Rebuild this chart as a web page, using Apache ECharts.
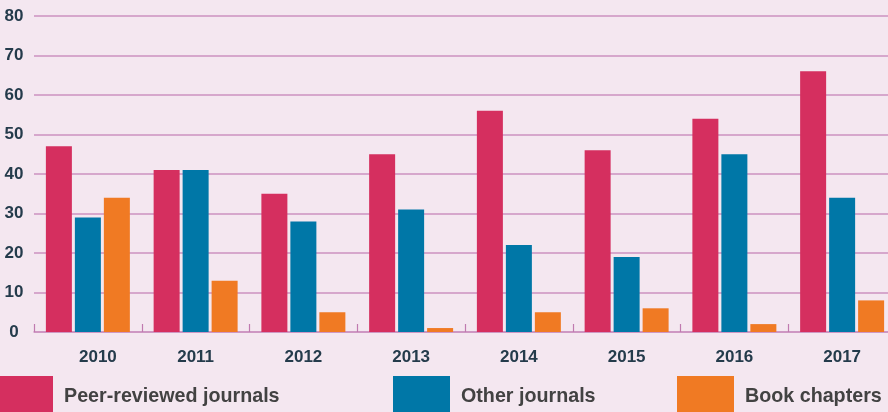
<!DOCTYPE html>
<html><head><meta charset="utf-8">
<script src="https://cdn.jsdelivr.net/npm/echarts@6/dist/echarts.min.js"></script>
<style>html,body{margin:0;padding:0;background:#f4e7f0;}#c{width:888px;height:412px;}</style>
</head><body><div id="c"></div>
<script>
var categories = ['2010','2011','2012','2013','2014','2015','2016','2017'];
var peerReviewed = [47, 41, 35, 45, 56, 46, 54, 66];
var otherJournals = [29, 41, 28, 31, 22, 19, 45, 34];
var bookChapters = [34, 13, 5, 1, 5, 6, 2, 8];
var yTicks = [0, 10, 20, 30, 40, 50, 60, 70, 80];
var seriesNames = ['Peer-reviewed journals', 'Other journals', 'Book chapters'];
var colors = ['#d52f5f', '#0077a7', '#f07a23'];

var chart = echarts.init(document.getElementById('c'));
var font = 'Liberation Sans, Arial, sans-serif';
function legendAt(i, left) {
  return {
    data: [seriesNames[i]], left: left, top: 376, orient: 'horizontal',
    itemWidth: 57, itemHeight: 42, itemGap: 0, padding: 0,
    icon: 'rect', selectedMode: false,
    textStyle: { color: '#424242', fontSize: 19.7, fontWeight: 'bold', fontFamily: font, padding: [0, 0, 0, 6] }
  };
}
var vals = [peerReviewed, otherJournals, bookChapters];
var lblStyle = { color: '#243b4b', fontSize: 17, fontWeight: 'bold', fontFamily: font };
chart.setOption({
  backgroundColor: '#f4e7f0',
  animation: false,
  grid: { left: 34, right: -8, top: 16, bottom: 80, containLabel: false, outerBoundsMode: 'none' },
  legend: [legendAt(0, -4), legendAt(1, 393), legendAt(2, 677)],
  xAxis: {
    type: 'category', data: categories,
    axisLine: { show: true, lineStyle: { color: '#cc92c0', width: 1.5 } },
    axisTick: { show: true, inside: true, length: 8, lineStyle: { color: '#c07ab0', width: 1.2 } },
    axisLabel: {
      color: lblStyle.color, fontSize: 17, fontWeight: 'bold', fontFamily: font, margin: 17,
      formatter: function (v, i) { return i === 0 ? '{f|' + v + '}' : '{n|' + v + '}'; },
      rich: {
        f: Object.assign({ padding: [0, 0, 0, 20] }, lblStyle),
        n: Object.assign({}, lblStyle)
      }
    }
  },
  yAxis: {
    type: 'value', min: yTicks[0], max: yTicks[yTicks.length - 1], interval: 10,
    axisLine: { show: false }, axisTick: { show: false },
    splitLine: { show: true, lineStyle: { color: '#cc92c0', width: 1.5 } },
    axisLabel: { color: '#243b4b', fontSize: 17, fontWeight: 'bold', fontFamily: font, align: 'center', margin: 20 }
  },
  series: seriesNames.map(function (n, i) {
    return { name: n, type: 'bar', data: vals[i], barWidth: 26, barGap: '11.5%',
      itemStyle: { color: colors[i] } };
  })
});
</script></body></html>
